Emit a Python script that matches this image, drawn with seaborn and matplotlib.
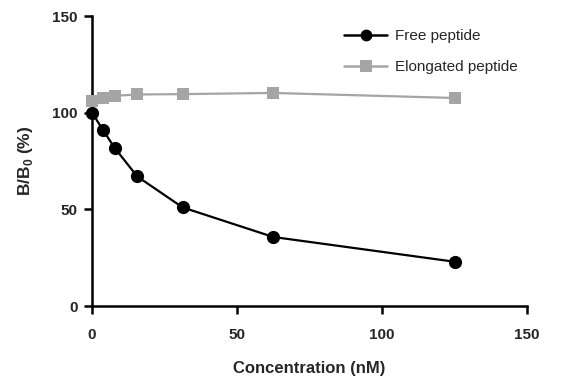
import matplotlib
matplotlib.use("Agg")
import matplotlib.pyplot as plt
import seaborn as sns
import pandas as pd
from matplotlib.lines import Line2D

concentration = [0, 3.9, 7.8, 15.6, 31.25, 62.5, 125]
free_peptide = [100, 90.8, 81.8, 67.0, 51.0, 35.7, 22.9]
elongated_peptide = [105.8, 107.8, 108.7, 109.4, 109.6, 110.2, 107.6]
series_names = ["Free peptide", "Elongated peptide"]
x_ticks = [0, 50, 100, 150]
y_ticks = [0, 50, 100, 150]

sns.set_theme(style="ticks")
plt.rcParams['font.family'] = ['Liberation Sans', 'DejaVu Sans']
plt.rcParams['mathtext.fontset'] = 'custom'
plt.rcParams['mathtext.bf'] = 'Liberation Sans:bold'
plt.rcParams['mathtext.rm'] = 'Liberation Sans:bold'

df_free = pd.DataFrame({"x": concentration, "y": free_peptide})
df_el = pd.DataFrame({"x": concentration, "y": elongated_peptide})

fig = plt.figure(figsize=(5.78, 3.82), dpi=100)
ax = fig.add_axes([92/578, 1-306/382, (527-92)/578, (306-16)/382])

gray = "#a5a5a5"
sns.lineplot(data=df_el, x="x", y="y", ax=ax, color=gray, marker="s",
             markersize=9, markeredgewidth=0, linewidth=1.6, clip_on=False,
             zorder=3)
sns.lineplot(data=df_free, x="x", y="y", ax=ax, color="black", marker="o",
             markersize=9.5, markeredgewidth=0, linewidth=1.6, clip_on=False,
             zorder=4)

ax.set_xlim(0, 150)
ax.set_ylim(0, 150)
ax.set_xticks(x_ticks)
ax.set_yticks(y_ticks)
ax.set_xticklabels([str(t) for t in x_ticks], fontsize=11, fontweight="bold")
ax.set_yticklabels([str(t) for t in y_ticks], fontsize=11, fontweight="bold")
ax.tick_params(axis="y", length=5.5, width=1.8, color="black", pad=5)
ax.tick_params(axis="x", length=5.5, width=1.8, color="black", pad=10)
for s in ["top", "right"]:
    ax.spines[s].set_visible(False)
for s in ["left", "bottom"]:
    ax.spines[s].set_linewidth(1.8)
    ax.spines[s].set_color("black")

ax.set_xlabel("Concentration (nM)", fontsize=12, fontweight="bold", labelpad=14)
ax.set_ylabel(r"B/B$_{\mathbf{0}}$ (%)", fontsize=12.5, fontweight="bold", labelpad=12)

handles = [
    Line2D([0], [0], color="black", marker="o", markersize=8.5, markeredgewidth=0, linewidth=1.8),
    Line2D([0], [0], color=gray, marker="s", markersize=8.5, markeredgewidth=0, linewidth=1.8),
]
leg = fig.legend(handles, series_names, loc="upper left",
                 bbox_to_anchor=(338/578, 1-23/382), frameon=False,
                 fontsize=11, handlelength=2.8, handletextpad=0.5,
                 labelspacing=1.1, borderaxespad=0)

fig.savefig("out.png", dpi=100)
